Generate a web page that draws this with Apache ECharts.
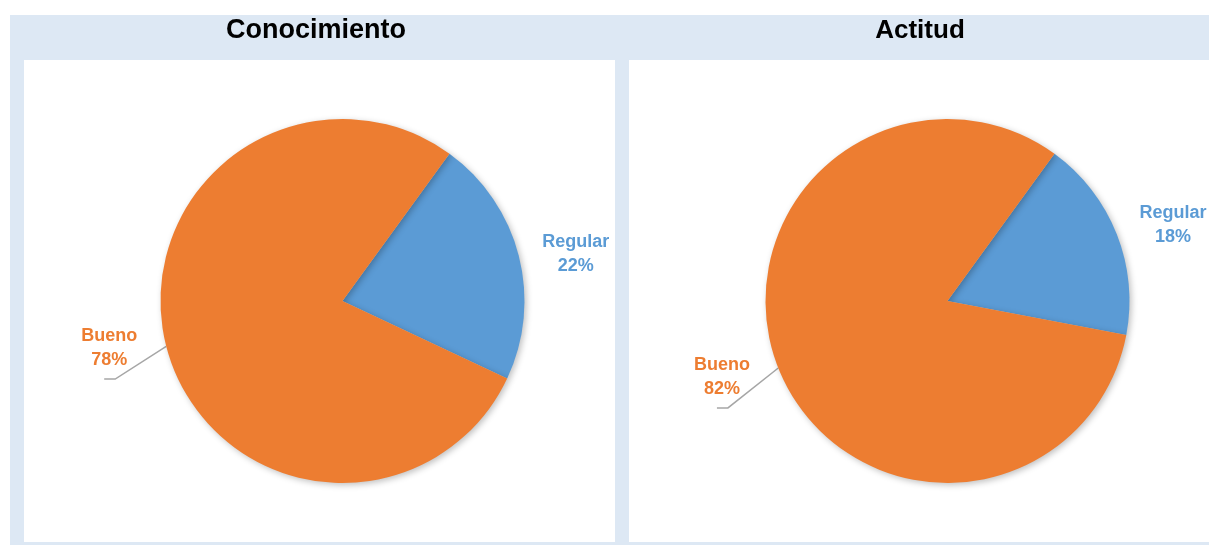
<!DOCTYPE html>
<html>
<head>
<meta charset="utf-8">
<script src="https://cdn.jsdelivr.net/npm/echarts@6/dist/echarts.min.js"></script>
<style>
  html, body { margin: 0; padding: 0; background: #ffffff; }
  #chart { width: 1209px; height: 545px; }
</style>
</head>
<body>
<div id="chart"></div>
<script>
const titles = ['Conocimiento', 'Actitud'];
const categories = ['Regular', 'Bueno'];
const conocimiento = [22, 78];
const actitud = [18, 82];
const colors = ['#5b9bd5', '#ed7d31'];

const FONT = '"Liberation Sans", Arial, sans-serif';
const bandColor = '#dde8f4';
const PIE_R = 182;
const LABEL_GAP = 56;
const LABEL_TURN = 3 * Math.PI / 180; // labels sit slightly clockwise of the slice middle

function labelPlacement(params) {
  const p = params.labelLinePoints;
  if (!p) return {};
  const dx = (p[1][0] - p[0][0]) / LABEL_GAP;
  const dy = (p[1][1] - p[0][1]) / LABEL_GAP;
  const cx = p[0][0] - PIE_R * dx;
  const cy = p[0][1] - PIE_R * dy;
  const R = PIE_R + LABEL_GAP;
  const cs = Math.cos(LABEL_TURN), sn = Math.sin(LABEL_TURN);
  const rx = dx * cs - dy * sn;
  const ry = dx * sn + dy * cs;
  const c = [cx + R * rx, cy + R * ry];
  const out = { x: c[0], y: c[1], align: 'center', verticalAlign: 'middle' };
  if (params.dataIndex === 1) {
    out.labelLinePoints = [p[0], [c[0] + 6, c[1] + 31], [c[0] - 5, c[1] + 31]];
  }
  return out;
}

function makeData(values) {
  return categories.map((name, i) => ({
    name: name,
    value: values[i],
    itemStyle: { color: colors[i] },
    label: { color: colors[i] },
    labelLine: { lineStyle: { opacity: i === 0 ? 0 : 1 } }
  }));
}

function pieSeries(values, center) {
  return {
    type: 'pie',
    center: center,
    radius: PIE_R,
    startAngle: 54,
    clockwise: true,
    avoidLabelOverlap: false,
    data: makeData(values),
    itemStyle: {
      borderWidth: 0,
      shadowBlur: 6,
      shadowOffsetX: 2,
      shadowOffsetY: 2,
      shadowColor: 'rgba(0,0,0,0.25)'
    },
    label: {
      show: true,
      position: 'outside',
      overflow: 'none',
      bleedMargin: 0,
      formatter: '{b}\n{d}%',
      fontFamily: FONT,
      fontWeight: 'bold',
      fontSize: 18,
      lineHeight: 24
    },
    labelLine: {
      show: true,
      length: LABEL_GAP,
      length2: 0,
      smooth: false,
      lineStyle: { color: '#a6a6a6', width: 1.5 }
    },
    labelLayout: labelPlacement,
    emphasis: { disabled: true },
    animation: false
  };
}

const chart = echarts.init(document.getElementById('chart'), null, { renderer: 'canvas' });
chart.setOption({
  backgroundColor: '#ffffff',
  animation: false,
  graphic: [
    { type: 'rect', shape: { x: 10, y: 15, width: 1199, height: 45 }, style: { fill: bandColor }, z: -10 },
    { type: 'rect', shape: { x: 10, y: 60, width: 14, height: 485 }, style: { fill: bandColor }, z: -10 },
    { type: 'rect', shape: { x: 615, y: 60, width: 14, height: 485 }, style: { fill: bandColor }, z: -10 },
    { type: 'rect', shape: { x: 10, y: 542, width: 1199, height: 3 }, style: { fill: bandColor }, z: -10 }
  ],
  title: [
    { text: titles[0], left: 316, top: 17, textAlign: 'center', padding: 0,
      textStyle: { fontFamily: FONT, fontWeight: 'bold', fontSize: 27, color: '#000000' } },
    { text: titles[1], left: 920, top: 18, textAlign: 'center', padding: 0,
      textStyle: { fontFamily: FONT, fontWeight: 'bold', fontSize: 26, color: '#000000' } }
  ],
  series: [
    pieSeries(conocimiento, [342.5, 301]),
    pieSeries(actitud, [947.5, 301])
  ]
});
</script>
</body>
</html>
